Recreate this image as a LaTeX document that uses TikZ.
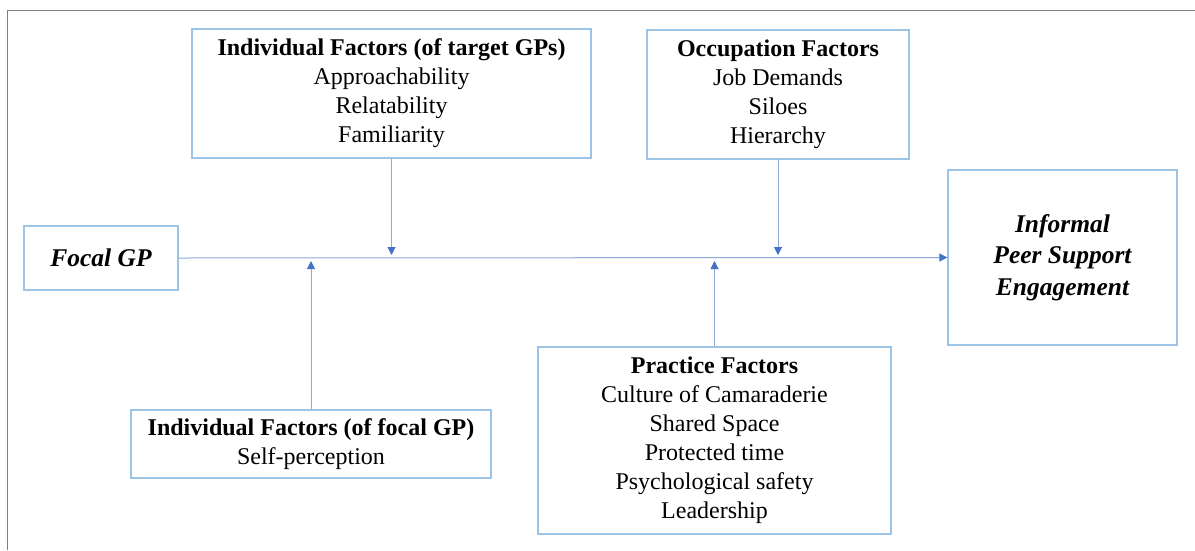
\documentclass[tikz,border=0pt]{standalone}
\usepackage{fontspec}
\setmainfont{Liberation Serif}
\usetikzlibrary{arrows.meta}
\definecolor{boxblue}{HTML}{9DC3E6}
\definecolor{lineblue}{HTML}{8EA9DB}
\definecolor{tipblue}{HTML}{4472C4}
\definecolor{framegray}{HTML}{808080}
\tikzset{
  factorbox/.style={draw=boxblue, line width=1.3pt, align=center, inner sep=0pt,
    font=\fontsize{24}{29}\selectfont},
  endbox/.style={draw=boxblue, line width=1.3pt, align=center, inner sep=0pt,
    font=\fontsize{25.5}{31.5}\selectfont\bfseries\itshape},
  link/.style={draw=lineblue, line width=1pt},
  linkarrow/.style={link, -{Triangle[length=8pt,width=8pt,color=tipblue]}}
}
\begin{document}
\begin{tikzpicture}[x=1pt,y=-1pt]
\useasboundingbox (0,0) rectangle (1195,550);
\fill[white] (0,0) rectangle (1195,550);
% partial frame
\draw[framegray, line width=1.8pt] (7.5,550) -- (7.5,10.5) -- (1195,10.5);

\node[factorbox, minimum width=399pt, minimum height=129pt] (tgt) at (391.5,93.5)
  {\textbf{Individual Factors (of target GPs)}\\Approachability\\Relatability\\Familiarity};
\node[factorbox, minimum width=262pt, minimum height=129pt] (occ) at (778,94.5)
  {\textbf{Occupation Factors}\\Job Demands\\Siloes\\Hierarchy};
\node[endbox, minimum width=154pt, minimum height=64pt] (focal) at (101,258) {Focal GP};
\node[endbox, minimum width=229pt, minimum height=175pt] (ipse) at (1062.5,257.5)
  {Informal\\Peer Support\\Engagement};
\node[factorbox, minimum width=360pt, minimum height=68pt] (self) at (311,444)
  {\textbf{Individual Factors (of focal GP)}\\Self-perception};
\node[factorbox, minimum width=353pt, minimum height=187pt] (prac) at (714.5,440.5)
  {\textbf{Practice Factors}\\Culture of Camaraderie\\Shared Space\\Protected time\\Psychological safety\\Leadership};

% main path
\draw[linkarrow] (focal.east) -- (ipse.west);
% moderators
\coordinate (tgtend) at (tgt.south |- 0,255);
\coordinate (occend) at (occ.south |- 0,255);
\coordinate (selfend) at (self.north |- 0,261);
\coordinate (pracend) at (prac.north |- 0,261);
\draw[linkarrow] (tgt.south) -- (tgtend);
\draw[linkarrow] (occ.south) -- (occend);
\draw[linkarrow] (self.north) -- (selfend);
\draw[linkarrow] (prac.north) -- (pracend);
\end{tikzpicture}
\end{document}
